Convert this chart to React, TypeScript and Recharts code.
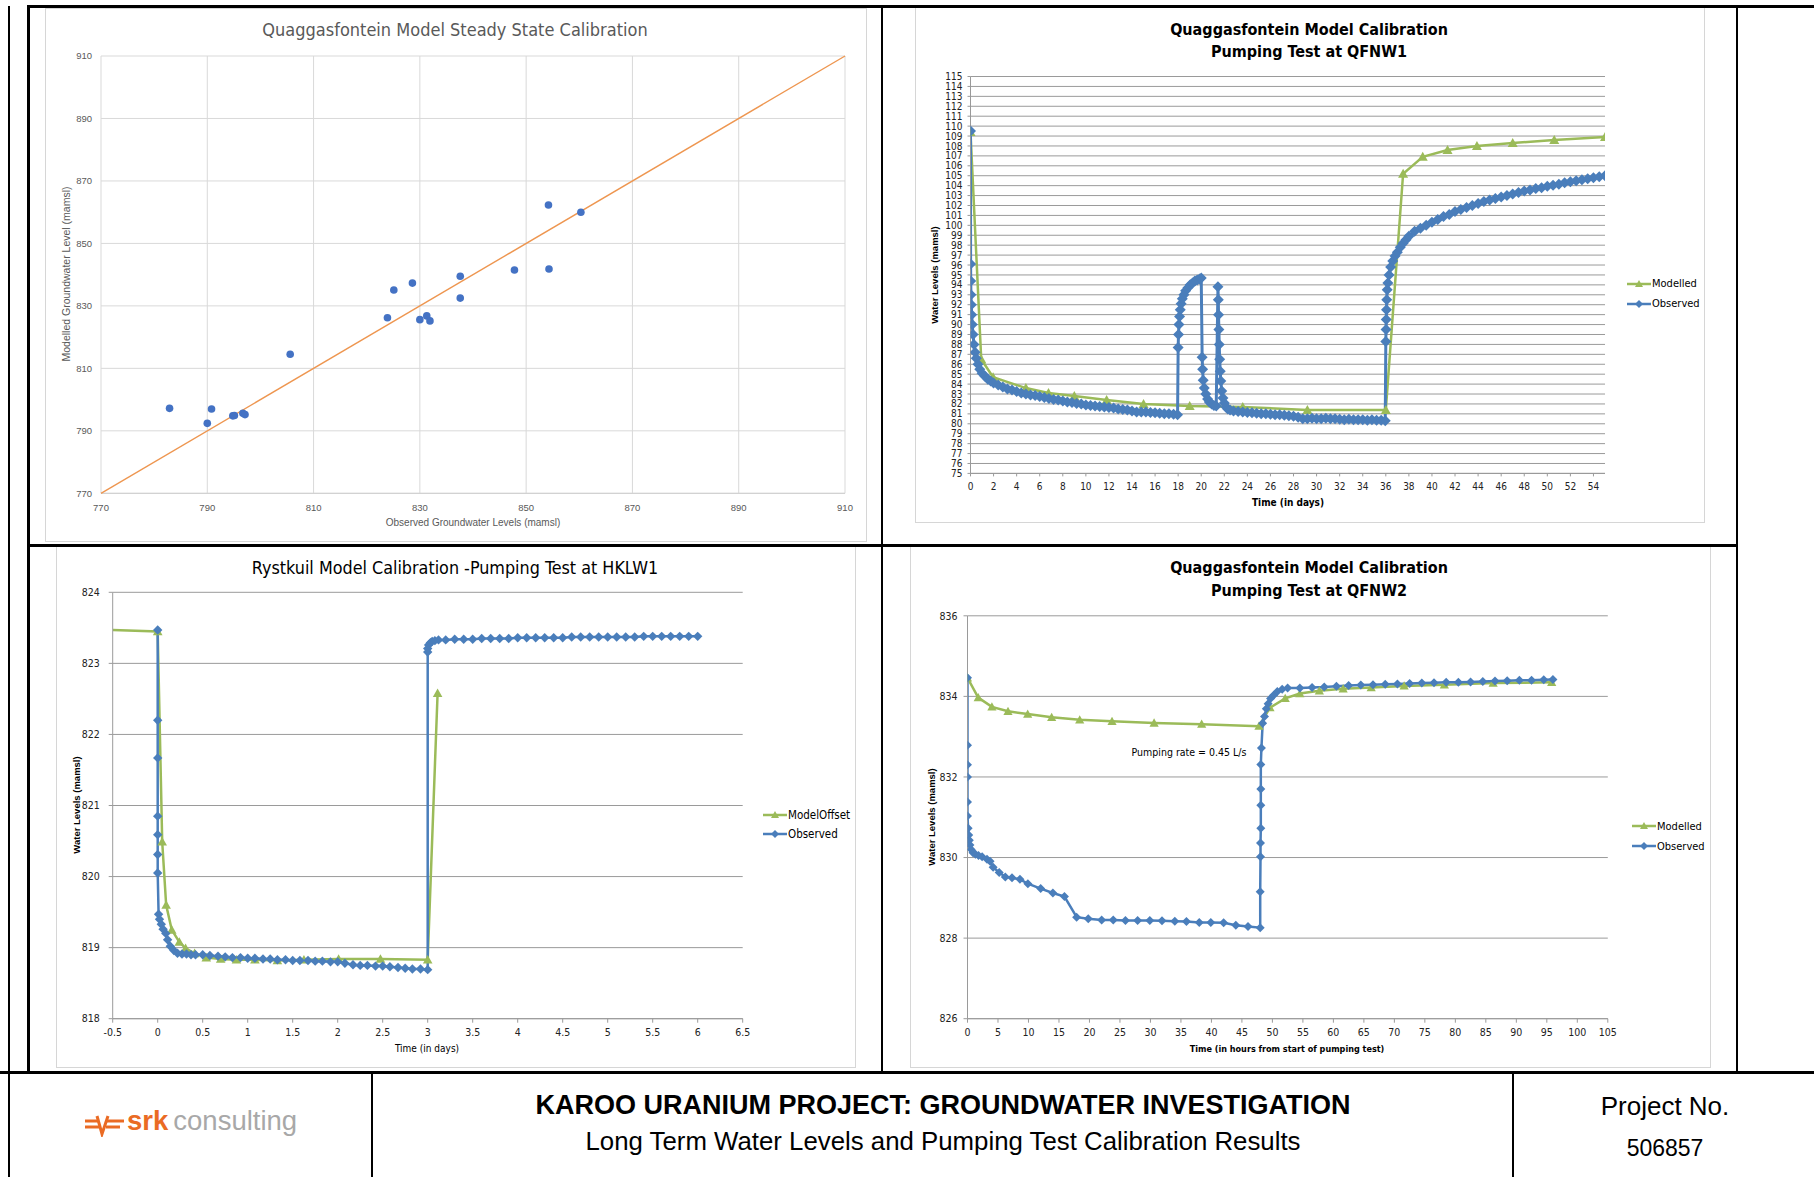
import React from 'react'
import { LineChart, Line, XAxis, YAxis, CartesianGrid, ScatterChart, Scatter } from 'recharts'

// ---- fonts / colours ----
const NARROW = "'Liberation Sans Narrow', 'DejaVu Sans Condensed', 'Liberation Sans', sans-serif"
const ARIAL = "'Liberation Sans', Arial, sans-serif"
const BLUE = '#4A7EBB'
const GREEN = '#9BBB59'
const ORANGE = '#EE9650'
const GRID = '#9A9A9A'

// ---- steady state calibration (observed vs modelled, mamsl) ----
const steadyObserved = [782.9, 790.8, 790.0, 794.8, 795.1, 796.7, 797.1, 805.6, 823.9, 825.1, 828.6, 830.0, 831.3, 831.9, 837.6, 837.6, 847.8, 854.2, 854.3, 860.3]
const steadyModelled = [797.2, 797.0, 792.4, 794.8, 794.9, 795.6, 795.2, 814.5, 826.2, 835.1, 837.3, 825.6, 826.8, 825.2, 839.5, 832.5, 841.5, 862.3, 841.8, 860.0]
const steadyTicks = [770, 790, 810, 830, 850, 870, 890, 910]
const oneToOne = [770, 910]

// ---- QFNW1 pumping test [day, level] ----
const qfnw1Modelled = [
  [0, 109.4], [0.93, 86.5], [1.96, 84.7], [4.8, 83.6], [6.76, 83.1], [9.0, 82.8], [11.8, 82.4], [15.0, 82.0],
  [19.0, 81.8], [23.6, 81.7], [29.2, 81.4], [36.0, 81.4], [37.5, 105.2], [39.2, 106.9], [41.35, 107.6],
  [43.9, 108.0], [47.0, 108.3], [50.6, 108.6], [55.0, 108.9],
]
const qfnw1Observed = [
  [0, 109.5], [0.01, 96.1], [0.02, 94.4], [0.04, 93.0], [0.07, 92.0], [0.1, 91.0], [0.15, 90.0], [0.22, 89.0],
  [0.3, 88.0], [0.4, 87.2], [0.5, 86.6], [0.65, 86.0], [0.8, 85.5], [1.0, 85.1], [1.25, 84.8], [1.5, 84.5],
  [1.75, 84.3], [2.0, 84.1], [2.4, 83.9], [2.8, 83.7], [3.2, 83.5], [3.6, 83.4], [4.0, 83.25], [4.4, 83.1],
  [4.8, 83.0], [5.2, 82.9], [5.6, 82.85], [6.0, 82.75], [6.4, 82.65], [6.8, 82.55], [7.2, 82.45], [7.6, 82.4],
  [8.0, 82.3], [8.4, 82.2], [8.8, 82.15], [9.2, 82.05], [9.6, 82.0], [10.0, 81.9], [10.4, 81.85], [10.8, 81.8],
  [11.2, 81.75], [11.6, 81.7], [12.0, 81.65], [12.4, 81.6], [12.8, 81.5], [13.2, 81.45], [13.6, 81.4], [14.0, 81.3],
  [14.4, 81.2], [14.8, 81.2], [15.2, 81.2], [15.6, 81.15], [16.0, 81.1], [16.4, 81.05], [16.8, 81.0], [17.2, 81.0],
  [17.6, 80.95], [17.95, 80.9],
  [18.0, 87.7], [18.03, 89.0], [18.07, 90.0], [18.12, 90.8], [18.18, 91.5], [18.26, 92.1], [18.36, 92.6], [18.5, 93.0],
  [18.65, 93.4], [18.85, 93.7], [19.05, 94.0], [19.25, 94.2], [19.45, 94.4], [19.65, 94.5], [19.85, 94.6], [20.0, 94.7],
  [20.08, 86.7], [20.12, 85.5], [20.17, 84.4], [20.26, 83.6], [20.4, 83.0], [20.55, 82.5], [20.7, 82.2], [20.9, 82.0],
  [21.1, 81.85], [21.3, 81.8],
  [21.45, 93.8], [21.48, 92.5], [21.5, 91.0], [21.53, 89.5], [21.56, 88.0], [21.6, 86.5], [21.65, 85.3], [21.7, 84.3],
  [21.78, 83.3], [21.88, 82.6], [22.0, 82.1], [22.15, 81.7], [22.3, 81.5], [22.5, 81.4], [22.8, 81.3], [23.2, 81.25],
  [23.6, 81.2], [24.0, 81.15], [24.4, 81.1], [24.8, 81.05], [25.2, 81.0], [25.6, 81.0], [26.0, 80.95], [26.4, 80.9],
  [26.8, 80.9], [27.2, 80.85], [27.6, 80.8], [28.0, 80.75], [28.4, 80.65], [28.8, 80.5], [29.2, 80.5], [29.6, 80.55],
  [30.0, 80.5], [30.4, 80.5], [30.8, 80.55], [31.2, 80.5], [31.6, 80.5], [32.0, 80.45], [32.4, 80.4], [32.8, 80.45],
  [33.2, 80.4], [33.6, 80.4], [34.0, 80.4], [34.4, 80.35], [34.8, 80.4], [35.2, 80.35], [35.6, 80.35], [35.95, 80.3],
  [36.0, 88.3], [36.02, 89.5], [36.04, 90.5], [36.06, 91.5], [36.08, 92.5], [36.12, 93.5], [36.18, 94.2], [36.28, 95.0],
  [36.42, 95.8], [36.6, 96.4], [36.8, 96.9], [37.0, 97.3], [37.25, 97.8], [37.5, 98.2], [37.75, 98.55], [38.0, 98.9],
  [38.5, 99.4], [39.0, 99.7], [39.5, 100.0], [40.0, 100.3], [40.5, 100.6], [41.0, 100.9], [41.5, 101.1], [42.0, 101.4],
  [42.5, 101.6], [43.0, 101.8], [43.5, 102.0], [44.0, 102.2], [44.5, 102.4], [45.0, 102.55], [45.5, 102.7], [46.0, 102.85],
  [46.5, 103.0], [47.0, 103.15], [47.5, 103.3], [48.0, 103.45], [48.5, 103.55], [49.0, 103.7], [49.5, 103.8], [50.0, 103.95],
  [50.5, 104.05], [51.0, 104.15], [51.5, 104.3], [52.0, 104.4], [52.5, 104.5], [53.0, 104.6], [53.5, 104.7], [54.0, 104.8],
  [54.5, 104.9], [55.0, 105.0],
]
const qfnw1LevelTicks = [75, 76, 77, 78, 79, 80, 81, 82, 83, 84, 85, 86, 87, 88, 89, 90, 91, 92, 93, 94, 95, 96, 97, 98, 99, 100, 101, 102, 103, 104, 105, 106, 107, 108, 109, 110, 111, 112, 113, 114, 115]
const qfnw1DayTicks = [0, 2, 4, 6, 8, 10, 12, 14, 16, 18, 20, 22, 24, 26, 28, 30, 32, 34, 36, 38, 40, 42, 44, 46, 48, 50, 52, 54]

// ---- Rystkuil HKLW1 pumping test [day, level] ----
const rystModelOffset = [
  [-0.5, 823.47], [0, 823.45], [0.05, 820.49], [0.094, 819.6], [0.156, 819.25], [0.24, 819.08], [0.31, 818.99],
  [0.41, 818.92], [0.54, 818.86], [0.7, 818.84], [0.875, 818.83], [1.08, 818.83], [1.33, 818.82], [1.625, 818.83],
  [2.01, 818.84], [2.475, 818.84], [3.0, 818.83], [3.11, 822.58],
]
const rystObserved = [
  [0, 823.47], [0, 822.2], [0, 821.67], [0, 820.85], [0, 820.59], [0, 820.31], [0, 820.05], [0.01, 819.47],
  [0.02, 819.4], [0.04, 819.33], [0.06, 819.26], [0.09, 819.2], [0.11, 819.11], [0.14, 819.02], [0.18, 818.96],
  [0.22, 818.92], [0.27, 818.91], [0.32, 818.91], [0.37, 818.9], [0.42, 818.9], [0.5, 818.9], [0.58, 818.89],
  [0.67, 818.88], [0.75, 818.87], [0.83, 818.86], [0.92, 818.86], [1.0, 818.85], [1.08, 818.85], [1.17, 818.84],
  [1.25, 818.84], [1.33, 818.83], [1.42, 818.83], [1.5, 818.82], [1.58, 818.82], [1.67, 818.82], [1.75, 818.81],
  [1.83, 818.81], [1.92, 818.8], [2.0, 818.8], [2.08, 818.78], [2.17, 818.76], [2.25, 818.75], [2.33, 818.75],
  [2.42, 818.74], [2.5, 818.74], [2.58, 818.73], [2.67, 818.72], [2.75, 818.71], [2.83, 818.7], [2.92, 818.7],
  [3.0, 818.69], [3.0, 823.16], [3.0, 823.21], [3.01, 823.26], [3.03, 823.29], [3.05, 823.31], [3.08, 823.32],
  [3.12, 823.33], [3.2, 823.33], [3.3, 823.34], [3.4, 823.34], [3.5, 823.34], [3.6, 823.35], [3.7, 823.35],
  [3.8, 823.35], [3.9, 823.35], [4.0, 823.36], [4.1, 823.36], [4.2, 823.36], [4.3, 823.36], [4.4, 823.36],
  [4.5, 823.36], [4.6, 823.37], [4.7, 823.37], [4.8, 823.37], [4.9, 823.37], [5.0, 823.37], [5.1, 823.37],
  [5.2, 823.37], [5.3, 823.37], [5.4, 823.38], [5.5, 823.38], [5.6, 823.38], [5.7, 823.38], [5.8, 823.38],
  [5.9, 823.38], [6.0, 823.38],
]
const rystLevelTicks = [818, 819, 820, 821, 822, 823, 824]
const rystDayTicks = [-0.5, 0, 0.5, 1, 1.5, 2, 2.5, 3, 3.5, 4, 4.5, 5, 5.5, 6, 6.5]

// ---- QFNW2 pumping test [hour, level] ----
const qfnw2Modelled = [
  [0, 834.46], [1.76, 833.97], [4.0, 833.74], [6.64, 833.63], [9.87, 833.56], [13.8, 833.48], [18.4, 833.42],
  [23.7, 833.38], [30.6, 833.34], [38.4, 833.31], [47.8, 833.26], [49.6, 833.72], [52.1, 833.95], [54.5, 834.07],
  [57.7, 834.14], [61.6, 834.19], [66.2, 834.22], [71.6, 834.26], [78.2, 834.29], [86.2, 834.33], [95.8, 834.35],
]
const qfnw2Observed = [
  [0, 834.46], [0, 832.79], [0, 832.3], [0, 832.0], [0, 831.38], [0, 831.03], [0.1, 830.73], [0.2, 830.56],
  [0.3, 830.43], [0.4, 830.31], [0.6, 830.2], [0.9, 830.12], [1.3, 830.08], [1.8, 830.05], [2.4, 830.02],
  [3.2, 829.96], [3.7, 829.91], [4.2, 829.76], [5.2, 829.63], [6.2, 829.52], [7.3, 829.5], [8.6, 829.46],
  [9.9, 829.35], [12.0, 829.23], [14.0, 829.12], [15.9, 829.03], [17.9, 828.52], [19.8, 828.48], [22.0, 828.45],
  [23.9, 828.45], [25.9, 828.44], [27.9, 828.44], [29.9, 828.44], [31.9, 828.43], [34.0, 828.42], [35.9, 828.41],
  [38.0, 828.39], [39.9, 828.39], [42.0, 828.38], [44.0, 828.32], [46.0, 828.29], [48.0, 828.26], [48.0, 829.15],
  [48.05, 830.02], [48.05, 830.36], [48.1, 830.73], [48.1, 831.3], [48.1, 831.7], [48.1, 832.31], [48.2, 832.72],
  [48.4, 833.33], [48.7, 833.5], [49.0, 833.69], [49.3, 833.82], [49.7, 833.95], [50.2, 834.03], [50.8, 834.12],
  [51.6, 834.18], [52.5, 834.21], [54.5, 834.21], [56.5, 834.22], [58.5, 834.23], [60.5, 834.25], [62.5, 834.27],
  [64.5, 834.28], [66.5, 834.29], [68.5, 834.3], [70.5, 834.31], [72.5, 834.32], [74.5, 834.33], [76.5, 834.34],
  [78.5, 834.35], [80.5, 834.35], [82.5, 834.36], [84.5, 834.37], [86.5, 834.38], [88.5, 834.39], [90.5, 834.4],
  [92.5, 834.4], [94.5, 834.41], [96.0, 834.42],
]
const qfnw2LevelTicks = [826, 828, 830, 832, 834, 836]
const qfnw2HourTicks = [0, 5, 10, 15, 20, 25, 30, 35, 40, 45, 50, 55, 60, 65, 70, 75, 80, 85, 90, 95, 100, 105]

const toXY = (pairs: number[][]) => pairs.map(([x, y]) => ({ x, y }))

// ---- markers ----
const diamondDot = (color: string, r: number, skipFirst = false) => (p: any) => {
  if (p.cx == null || p.cy == null || (skipFirst && p.index === 0)) return <g key={`e${p.index}`} />
  const { cx, cy } = p
  return <path key={`d${p.index}`} d={`M${cx},${cy - r}L${cx + r},${cy}L${cx},${cy + r}L${cx - r},${cy}Z`} fill={color} />
}
const triangleDot = (color: string, r: number, skipFirst = false) => (p: any) => {
  if (p.cx == null || p.cy == null || (skipFirst && p.index === 0)) return <g key={`e${p.index}`} />
  const { cx, cy } = p
  return <path key={`t${p.index}`} d={`M${cx},${cy - r}L${cx + r},${cy + r * 0.8}L${cx - r},${cy + r * 0.8}Z`} fill={color} />
}

function Txt({ x, y, size, children, bold, color = '#000', font = NARROW, rotate = false }: any) {
  return (
    <div
      style={{
        position: 'absolute', left: x, top: y, transform: `translate(-50%, -50%)${rotate ? ' rotate(-90deg)' : ''}`,
        whiteSpace: 'nowrap', fontSize: size, fontWeight: bold ? 700 : 400, color, fontFamily: font, lineHeight: 1,
      }}
    >
      {children}
    </div>
  )
}

function Rule({ x, y, w, h }: any) {
  return <div style={{ position: 'absolute', left: x, top: y, width: w, height: h, background: '#000' }} />
}

function Panel({ x, y, w, h }: any) {
  return <div style={{ position: 'absolute', left: x, top: y, width: w, height: h, border: '1px solid #D6D6D6', boxSizing: 'border-box' }} />
}

function LegendItem({ x, y, label, color, marker, size = 11 }: any) {
  return (
    <div style={{ position: 'absolute', left: x, top: y - 8, height: 16, display: 'flex', alignItems: 'center', whiteSpace: 'nowrap' }}>
      <svg width={24} height={16} style={{ display: 'block' }}>
        <line x1={0} y1={8} x2={24} y2={8} stroke={color} strokeWidth={2.5} />
        {marker === 'tri'
          ? <path d="M12,4L16,11L8,11Z" fill={color} />
          : <path d="M12,4L16,8L12,12L8,8Z" fill={color} />}
      </svg>
      <span style={{ fontFamily: NARROW, fontSize: size, color: '#000', marginLeft: 1 }}>{label}</span>
    </div>
  )
}

function SteadyState() {
  const points = steadyObserved.map((x, i) => ({ x, y: steadyModelled[i] }))
  const line = oneToOne.map((v) => ({ x: v, y: v }))
  const tick = { fontSize: 9.5, fill: '#595959', fontFamily: ARIAL }
  return (
    <>
      <Panel x={45} y={8} w={822} h={534} />
      <div style={{ position: 'absolute', left: 45, top: 8 }}>
        <ScatterChart width={822} height={534} margin={{ top: 48, right: 22, bottom: 18.7, left: 16 }}>
          <CartesianGrid stroke="#D9D9D9" />
          <XAxis type="number" dataKey="x" domain={[770, 910]} ticks={steadyTicks} interval={0} tickLine={false}
            axisLine={{ stroke: '#CFCFCF' }} tick={tick} height={30} tickMargin={5} />
          <YAxis type="number" dataKey="y" domain={[770, 910]} ticks={steadyTicks} interval={0} tickLine={false}
            axisLine={false} tick={tick} width={40} tickMargin={3} />
          <Scatter data={line} line={{ stroke: ORANGE, strokeWidth: 1.4 }} shape={() => <g />} isAnimationActive={false} />
          <Scatter data={points} shape={(p: any) => <circle cx={p.cx} cy={p.cy} r={3.8} fill="#4472C4" />} isAnimationActive={false} />
        </ScatterChart>
      </div>
      <Txt x={455} y={29.5} size={18} color="#595959">Quaggasfontein Model Steady State Calibration</Txt>
      <Txt x={473} y={523} size={10} color="#595959" font={ARIAL}>Observed Groundwater Levels (mamsl)</Txt>
      <Txt x={66} y={274} size={10.5} color="#595959" font={ARIAL} rotate>Modelled Groundwater Level (mamsl)</Txt>
    </>
  )
}

function Qfnw1() {
  const tick = { fontSize: 10, fill: '#222', fontFamily: NARROW }
  return (
    <>
      <Panel x={915} y={7} w={790} h={516} />
      <div style={{ position: 'absolute', left: 915, top: 7 }}>
        <LineChart width={790} height={516} margin={{ top: 69.5, right: 100, bottom: 24.6, left: 20.5 }}>
          <CartesianGrid stroke={GRID} vertical={false} />
          <XAxis type="number" dataKey="x" domain={[0, 55]} ticks={qfnw1DayTicks} interval={0} allowDataOverflow
            tickSize={3} tickMargin={6} stroke={GRID} tick={tick} height={25} />
          <YAxis type="number" domain={[75, 115]} ticks={qfnw1LevelTicks} interval={0} allowDataOverflow
            tickSize={3} tickMargin={5} stroke={GRID} tick={tick} width={35} />
          <Line data={toXY(qfnw1Modelled)} dataKey="y" type="linear" stroke={GREEN} strokeWidth={2.5}
            dot={triangleDot(GREEN, 5)} activeDot={false} isAnimationActive={false} />
          <Line data={toXY(qfnw1Observed)} dataKey="y" type="linear" stroke={BLUE} strokeWidth={3}
            dot={diamondDot(BLUE, 5.5)} activeDot={false} isAnimationActive={false} />
        </LineChart>
      </div>
      <Txt x={1309} y={29.5} size={16} bold>Quaggasfontein Model Calibration</Txt>
      <Txt x={1309} y={52} size={16} bold>Pumping Test at QFNW1</Txt>
      <Txt x={1288} y={503} size={10} bold>Time (in days)</Txt>
      <Txt x={935} y={275} size={9.5} bold font={ARIAL} rotate>Water Levels (mamsl)</Txt>
      <LegendItem x={1627} y={283.5} label="Modelled" color={GREEN} marker="tri" />
      <LegendItem x={1627} y={303.5} label="Observed" color={BLUE} marker="dia" />
    </>
  )
}

function Rystkuil() {
  const tick = { fontSize: 10.5, fill: '#222', fontFamily: NARROW }
  return (
    <>
      <Panel x={56} y={546} w={800} h={522} />
      <div style={{ position: 'absolute', left: 56, top: 546 }}>
        <LineChart width={800} height={522} margin={{ top: 46.3, right: 113.3, bottom: 24.3, left: 21.7 }}>
          <CartesianGrid stroke={GRID} vertical={false} />
          <XAxis type="number" dataKey="x" domain={[-0.5, 6.5]} ticks={rystDayTicks} interval={0} allowDataOverflow
            tickSize={4} tickMargin={6} stroke={GRID} tick={tick} height={25} />
          <YAxis type="number" domain={[818, 824]} ticks={rystLevelTicks} interval={0} allowDataOverflow
            tickSize={4} tickMargin={9} stroke={GRID} tick={tick} width={35} />
          <Line data={toXY(rystModelOffset)} dataKey="y" type="linear" stroke={GREEN} strokeWidth={2.5}
            dot={triangleDot(GREEN, 4.8, true)} activeDot={false} isAnimationActive={false} />
          <Line data={toXY(rystObserved)} dataKey="y" type="linear" stroke={BLUE} strokeWidth={2.5}
            dot={diamondDot(BLUE, 4.7)} activeDot={false} isAnimationActive={false} />
        </LineChart>
      </div>
      <Txt x={455} y={567.5} size={17.8}>Rystkuil Model Calibration -Pumping Test at HKLW1</Txt>
      <Txt x={427} y={1049} size={10}>Time (in days)</Txt>
      <Txt x={77} y={805} size={9.5} bold font={ARIAL} rotate>Water Levels (mamsl)</Txt>
      <LegendItem x={763} y={814.5} label="ModelOffset" color={GREEN} marker="tri" size={11.5} />
      <LegendItem x={763} y={833.7} label="Observed" color={BLUE} marker="dia" size={11.5} />
    </>
  )
}

function Qfnw2() {
  const tick = { fontSize: 10.5, fill: '#222', fontFamily: NARROW }
  return (
    <>
      <Panel x={910} y={546} w={801} h={522} />
      <div style={{ position: 'absolute', left: 910, top: 546 }}>
        <LineChart width={801} height={522} margin={{ top: 69.8, right: 103.2, bottom: 24.3, left: 22.5 }}>
          <CartesianGrid stroke={GRID} vertical={false} />
          <XAxis type="number" dataKey="x" domain={[0, 105]} ticks={qfnw2HourTicks} interval={0} allowDataOverflow
            tickSize={4} tickMargin={6} stroke={GRID} tick={tick} height={25} />
          <YAxis type="number" domain={[826, 836]} ticks={qfnw2LevelTicks} interval={0} allowDataOverflow
            tickSize={4} tickMargin={6} stroke={GRID} tick={tick} width={35} />
          <Line data={toXY(qfnw2Modelled)} dataKey="y" type="linear" stroke={GREEN} strokeWidth={2.5}
            dot={triangleDot(GREEN, 4.6)} activeDot={false} isAnimationActive={false} />
          <Line data={toXY(qfnw2Observed)} dataKey="y" type="linear" stroke={BLUE} strokeWidth={2.5}
            dot={diamondDot(BLUE, 4.5)} activeDot={false} isAnimationActive={false} />
        </LineChart>
      </div>
      <Txt x={1309} y={567.5} size={16} bold>Quaggasfontein Model Calibration</Txt>
      <Txt x={1309} y={591} size={16} bold>Pumping Test at QFNW2</Txt>
      <Txt x={1287} y={1049} size={9} bold>Time (in hours from start of pumping test)</Txt>
      <Txt x={932} y={817} size={9.5} bold font={ARIAL} rotate>Water Levels (mamsl)</Txt>
      <Txt x={1189} y={751.7} size={10.5}>Pumping rate = 0.45 L/s</Txt>
      <LegendItem x={1632} y={826} label="Modelled" color={GREEN} marker="tri" />
      <LegendItem x={1632} y={846} label="Observed" color={BLUE} marker="dia" />
    </>
  )
}

function Footer() {
  return (
    <>
      <svg width={42} height={24} style={{ position: 'absolute', left: 84, top: 1113 }}>
        <g stroke="#EA6B24" strokeWidth={3} fill="none" strokeLinejoin="miter">
          <line x1={1} y1={8} x2={15} y2={8} />
          <line x1={1} y1={14} x2={15} y2={14} />
          <polyline points="13,3 18,21 24,3" />
          <line x1={22} y1={8} x2={40} y2={8} />
          <line x1={22} y1={14} x2={36} y2={14} />
        </g>
      </svg>
      <div style={{ position: 'absolute', left: 127, top: 1107, fontFamily: ARIAL, fontSize: 27.5, lineHeight: 1, whiteSpace: 'nowrap' }}>
        <span style={{ color: '#EA6B24', fontWeight: 700 }}>srk</span>
        <span style={{ color: '#A8A8A8', marginLeft: 5 }}>consulting</span>
      </div>
      <Txt x={943} y={1105} size={27} bold font={ARIAL}>KAROO URANIUM PROJECT: GROUNDWATER INVESTIGATION</Txt>
      <Txt x={943} y={1142} size={25.8} font={ARIAL}>Long Term Water Levels and Pumping Test Calibration Results</Txt>
      <Txt x={1665} y={1106} size={26} font={ARIAL}>Project No.</Txt>
      <Txt x={1665} y={1148} size={23} font={ARIAL}>506857</Txt>
    </>
  )
}

export default function App() {
  return (
    <div style={{ position: 'absolute', left: 0, top: 0, width: 1814, height: 1177, background: '#fff', overflow: 'hidden', fontFamily: ARIAL }}>
      <SteadyState />
      <Qfnw1 />
      <Rystkuil />
      <Qfnw2 />
      {/* table rules */}
      <Rule x={8} y={6} w={1.5} h={1171} />
      <Rule x={27} y={5} w={1787} h={3} />
      <Rule x={27} y={5} w={2.5} h={1068} />
      <Rule x={881} y={5} w={2} h={1068} />
      <Rule x={1736} y={5} w={2} h={1068} />
      <Rule x={27} y={544} w={1711} h={2.5} />
      <Rule x={0} y={1071} w={1814} h={3} />
      <Rule x={371} y={1071} w={1.5} h={106} />
      <Rule x={1512} y={1071} w={1.5} h={106} />
      <Footer />
    </div>
  )
}
